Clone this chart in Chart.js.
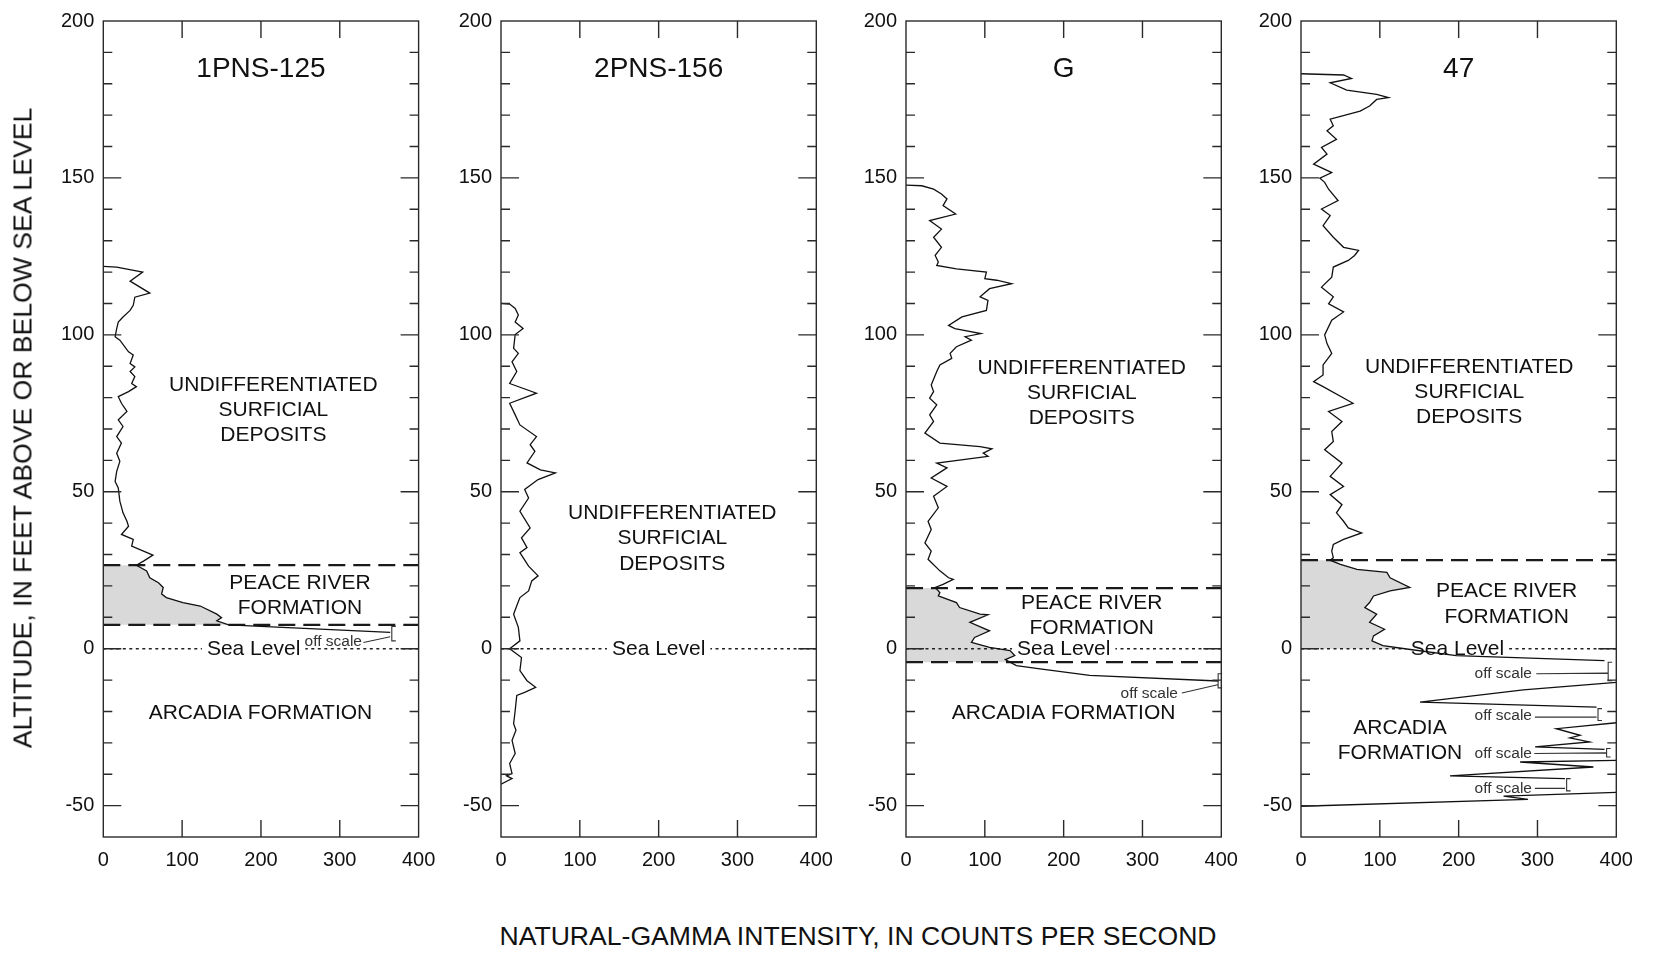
<!DOCTYPE html>
<html>
<head>
<meta charset="utf-8">
<title>Natural-gamma logs</title>
<script src="https://cdn.jsdelivr.net/npm/chart.js@4.4.0/dist/chart.umd.min.js"></script>
<style>
  html, body { margin: 0; padding: 0; background: #fff; width: 1655px; height: 954px; overflow: hidden;
               font-family: "Liberation Sans", Arial, sans-serif; }
  .panel { position: absolute; top: 0; }
  .axis-title { position: absolute; color: #111; font-size: 26.6px; white-space: nowrap; }
  #ytitle { left: 23px; top: 428px; transform: translate(-50%, -50%) rotate(-90deg); }
  #xtitle { left: 858px; top: 936px; transform: translate(-50%, -50%); }
</style>
</head>
<body>
<div class="panel" id="p0"><canvas id="c0"></canvas></div>
<div class="panel" id="p1"><canvas id="c1"></canvas></div>
<div class="panel" id="p2"><canvas id="c2"></canvas></div>
<div class="panel" id="p3"><canvas id="c3"></canvas></div>
<div class="axis-title" id="ytitle">ALTITUDE, IN FEET ABOVE OR BELOW SEA LEVEL</div>
<div class="axis-title" id="xtitle">NATURAL-GAMMA INTENSITY, IN COUNTS PER SECOND</div>
<script>
// ---- tick values ----
const xTicks = [0, 100, 200, 300, 400];
const yTicks = [-50, 0, 50, 100, 150, 200];
const wellNames = ['1PNS-125', '2PNS-156', 'G', '47'];

// ---- natural-gamma logs (counts per second vs altitude, ft) ----
const well1Gamma = [0, 17, 50, 34, 59, 40, 38, 34, 25, 19, 17, 15, 21, 32, 38, 34, 40, 34, 40, 36, 42, 32, 19, 23, 30, 19, 25, 17, 23, 17, 21, 17, 15, 19, 21, 25, 30, 32, 23, 38, 36, 51, 63, 51, 42, 55, 59, 70, 76, 74, 80, 101, 123, 144, 150, 144, 159, 364];
const well1Alt   = [121.8, 121.6, 120, 117.1, 113.3, 112, 109.4, 107.8, 105.7, 104.1, 102, 99.4, 98.3, 94.6, 93.6, 90.9, 89.8, 88.3, 86.7, 84.5, 83.5, 81.9, 80.3, 78.2, 75.6, 72.9, 70.8, 67.6, 65.5, 62.3, 59.7, 56.5, 53.3, 51.2, 47, 43.3, 40.6, 39, 36.4, 34.8, 32.7, 31.1, 29.8, 27.9, 26.6, 24.8, 22.6, 21, 19.5, 17.4, 16.3, 14.7, 13.6, 11, 9.9, 8.9, 7.6, 5.2];

const well2Gamma = [0, 11, 18, 22, 18, 28, 18, 16, 22, 14, 20, 11, 45, 11, 18, 24, 45, 37, 43, 33, 50, 69, 47, 30, 35, 24, 37, 26, 33, 24, 35, 47, 39, 35, 24, 20, 16, 22, 24, 11, 26, 24, 33, 44, 30, 20, 18, 16, 19, 14, 18, 11, 14, 7, 14, 0];
const well2Alt   = [110, 109.8, 108.4, 106.3, 104.1, 102, 100.1, 95.7, 94.1, 91.4, 88.3, 84.5, 81.4, 78.2, 74.5, 71.3, 67.6, 65, 62.9, 59.2, 57, 56, 53.9, 50.7, 48, 43.8, 38.5, 35.3, 32.2, 30.6, 26.3, 23.2, 21.6, 18.4, 16.3, 13.7, 11, 6.8, 2.5, 0, -2.8, -7, -10.2, -12.3, -13.9, -14.9, -19.7, -23.9, -26, -29.2, -33.4, -36.6, -39.8, -40.5, -41.4, -43.2];

const wellGGamma = [0, 20, 35, 45, 52, 47, 63, 30, 45, 35, 45, 37, 41, 39, 64, 102, 100, 115, 134, 106, 94, 104, 102, 71, 54, 62, 95, 75, 83, 64, 56, 58, 43, 39, 32, 35, 30, 39, 30, 35, 24, 43, 94, 109, 98, 104, 39, 52, 45, 32, 52, 35, 41, 28, 32, 24, 32, 28, 43, 54, 60, 47, 37, 43, 41, 64, 68, 94, 104, 81, 106, 87, 83, 106, 132, 138, 126, 140, 170, 233, 396];
const wellGAlt   = [147.7, 147.5, 146.4, 144.9, 143.3, 141.2, 138.5, 136.4, 133.7, 131.1, 127.9, 125.3, 123.2, 122.1, 121, 120, 117.9, 117.4, 116.3, 114.7, 112.1, 111, 107.8, 105.7, 103, 102, 100.4, 99.4, 98.3, 96.2, 94.1, 92.5, 90.4, 88.3, 84, 81.9, 79.8, 77.7, 74.5, 72.4, 68.7, 65.5, 64.4, 63.7, 62.3, 61.3, 59.1, 57.6, 56.5, 54.4, 51.7, 48.6, 44.9, 40.6, 38, 33.7, 31.1, 28.5, 24.8, 22.6, 22.1, 20.5, 19.5, 17.9, 16.8, 14.7, 13.1, 11, 10.8, 8.4, 5.7, 3.6, 2, 0.4, -0.6, -2.2, -3.5, -5.4, -6.4, -8.5, -10.3];

// null entries mark where the trace runs off scale and breaks
const well47Gamma = [0, 54, 64, 37, 58, 96, 111, 96, 87, 75, 37, 41, 33, 45, 26, 33, 16, 39, 24, 30, 35, 47, 26, 37, 28, 41, 54, 73, 68, 60, 41, 39, 26, 41, 35, 54, 39, 30, 33, 39, 28, 28, 16, 28, 66, 35, 52, 39, 41, 30, 52, 37, 54, 37, 52, 45, 54, 60, 77, 54, 41, 39, 41, 37, 50, 71, 109, 113, 138, 113, 92, 87, 81, 96, 87, 106, 92, 90, 104, 134, 197, 385,
  null, 400, 282, 151, 375,
  null, 400, 324, 354, 341, 366, 297, 385,
  null, 400, 278, 371, 189, 335,
  null, 400, 257, 288, 0];
const well47Alt   = [183.2, 182.8, 181.7, 180.3, 178, 176.6, 175.6, 175, 172.9, 171.3, 168.7, 166.6, 165, 162.3, 159.7, 157.6, 154.4, 151.7, 149.9, 148.6, 146.4, 142.8, 140.1, 138, 134.8, 131.1, 127.9, 126.9, 125.3, 123.7, 121.6, 118.4, 115.2, 112.1, 109.9, 107.3, 104.7, 100, 97.2, 94.1, 90.4, 87.2, 85.1, 83.5, 78.2, 75.6, 72.4, 69.2, 66, 63.4, 59.1, 54.9, 51.7, 49.1, 45.9, 43.3, 40.6, 38.5, 36.9, 34.8, 33.2, 31.1, 29, 28.2, 26.9, 25.3, 24.3, 22.6, 19.5, 18.4, 16.8, 14.7, 13.1, 11, 8.4, 6.2, 4.1, 2.5, 1, -0.1, -2.2, -3.8,
  null, -10.7, -13.1, -17, -18.6,
  null, -23.6, -25.5, -27.6, -28.4, -29.7, -31.3, -32.1,
  null, -35.6, -36.1, -37.7, -40.5, -41.4,
  null, -45.8, -47, -48, -50.2];

const gammaSeries = [well1Gamma, well2Gamma, wellGGamma, well47Gamma];
const altSeries   = [well1Alt, well2Alt, wellGAlt, well47Alt];

// formation contacts (ft); null where not picked
const peaceTop  = [26.6, null, 19.3, 28.2];
const peaceBase = [7.6, null, -4.3, null];

// ---- page layout ----
const plotLeft   = [103.3, 501, 906, 1301];
const canvasLeft = [23, 421, 826, 1221];
const plotWidth = 315.3, plotTop = 18.3, plotBottom = 837, canvasH = 890, rightPad = 30;

// ---- annotations, in data units ----
const notes = [
  { title: { x: 200, y: 184.7 },
    blocks: [
      { lines: ['UNDIFFERENTIATED', 'SURFICIAL', 'DEPOSITS'], x: 215.7, y: 76 },
      { lines: ['PEACE RIVER', 'FORMATION'], x: 249.5, y: 16.9 },
      { lines: ['ARCADIA FORMATION'], x: 199.4, y: -20.5 } ],
    sea: 190.7,
    off: [ { x: 291.7, y: 2.3, lead: [330, 2.0, 364, 3.8], br: [366, 7.1, 2.5] } ] },
  { title: { x: 200, y: 184.7 },
    blocks: [ { lines: ['UNDIFFERENTIATED', 'SURFICIAL', 'DEPOSITS'], x: 217.3, y: 35.1 } ],
    sea: 200, off: [] },
  { title: { x: 200, y: 184.7 },
    blocks: [
      { lines: ['UNDIFFERENTIATED', 'SURFICIAL', 'DEPOSITS'], x: 223, y: 81.4 },
      { lines: ['PEACE RIVER', 'FORMATION'], x: 235.6, y: 10.6 },
      { lines: ['ARCADIA FORMATION'], x: 200, y: -20.5 } ],
    sea: 200.1,
    off: [ { x: 308.6, y: -14.2, lead: [350, -14.1, 395.4, -11.5], br: [396, -8.0, -12.5] } ] },
  { title: { x: 200, y: 184.7 },
    blocks: [
      { lines: ['UNDIFFERENTIATED', 'SURFICIAL', 'DEPOSITS'], x: 213.4, y: 81.7 },
      { lines: ['PEACE RIVER', 'FORMATION'], x: 260.9, y: 14.2 },
      { lines: ['ARCADIA', 'FORMATION'], x: 125.6, y: -29.4 } ],
    sea: 198.5,
    off: [
      { x: 256.6, y: -8.0,  lead: [298.5, -8.0, 389, -7.8],   br: [389.7, -4.3, -10.2] },
      { x: 256.6, y: -21.5, lead: [296.7, -21.8, 375, -21.8], br: [376.8, -19.1, -22.9] },
      { x: 256.6, y: -33.4, lead: [296, -33.4, 387, -33.2],   br: [387.7, -31.8, -34.5] },
      { x: 256.6, y: -44.5, lead: [296.7, -44.5, 335, -44.5], br: [337, -41.4, -45.3] } ] }
];

const FONT = '"Liberation Sans", Arial, sans-serif';
Chart.defaults.font.family = FONT;

// shading, contacts, sea level and labels under the trace
const wellNotes = {
  id: 'wellNotes',
  beforeDatasetsDraw(chart, args, opts) {
    const { ctx, chartArea: a, scales: { x, y } } = chart;
    const i = opts.index;
    const g = gammaSeries[i], alt = altSeries[i];
    ctx.save();

    // grey band: Peace River Formation between the trace and the left axis
    if (peaceTop[i] !== null) {
      const lo = peaceBase[i] !== null ? peaceBase[i] : 0;
      const yTop = y.getPixelForValue(peaceTop[i]);
      const yBot = y.getPixelForValue(lo);
      ctx.save();
      ctx.beginPath();
      ctx.rect(a.left, yTop, a.right - a.left, yBot - yTop);
      ctx.clip();
      ctx.beginPath();
      let first = null, last = null;
      for (let k = 0; k < g.length; k++) {
        if (g[k] === null) continue;
        const px = x.getPixelForValue(g[k]), py = y.getPixelForValue(alt[k]);
        if (first === null) { first = py; ctx.moveTo(px, py); } else ctx.lineTo(px, py);
        last = py;
      }
      ctx.lineTo(x.getPixelForValue(0), last);
      ctx.lineTo(x.getPixelForValue(0), first);
      ctx.closePath();
      ctx.fillStyle = '#d9d9d9';
      ctx.fill();
      ctx.restore();
    }

    // sea level (dotted), broken around its label
    const y0 = y.getPixelForValue(0);
    ctx.beginPath();
    ctx.setLineDash([3, 3.5]);
    ctx.lineWidth = 1.5;
    ctx.strokeStyle = '#222';
    ctx.moveTo(a.left, y0); ctx.lineTo(a.right, y0);
    ctx.stroke();
    ctx.setLineDash([]);
    ctx.font = '21px ' + FONT;
    ctx.textAlign = 'center';
    ctx.textBaseline = 'middle';
    const sx = x.getPixelForValue(opts.sea);
    const sw = ctx.measureText('Sea Level').width;
    ctx.fillStyle = '#fff';
    ctx.fillRect(sx - sw / 2 - 5, y0 - 3, sw + 10, 6);
    ctx.fillStyle = '#111';
    ctx.fillText('Sea Level', sx, y0 + 1);

    // formation contacts (dashed)
    ctx.setLineDash([17, 8]);
    ctx.lineWidth = 2.2;
    ctx.strokeStyle = '#1a1a1a';
    [peaceTop[i], peaceBase[i]].forEach(v => {
      if (v === null) return;
      const py = y.getPixelForValue(v);
      ctx.beginPath();
      ctx.moveTo(a.left, py); ctx.lineTo(a.right, py);
      ctx.stroke();
    });
    ctx.setLineDash([]);

    // well name
    ctx.fillStyle = '#111';
    ctx.font = '28px ' + FONT;
    ctx.fillText(wellNames[i], x.getPixelForValue(opts.title.x), y.getPixelForValue(opts.title.y));

    // unit labels
    ctx.font = '21px ' + FONT;
    opts.blocks.forEach(b => {
      const cx = x.getPixelForValue(b.x), cy = y.getPixelForValue(b.y);
      const n = b.lines.length;
      b.lines.forEach((t, k) => ctx.fillText(t, cx, cy + (k - (n - 1) / 2) * 25.2));
    });

    // off-scale notes with leaders and brackets
    ctx.font = '15.5px ' + FONT;
    ctx.lineWidth = 1.1;
    ctx.strokeStyle = '#333';
    opts.off.forEach(o => {
      ctx.fillStyle = '#333';
      ctx.fillText('off scale', x.getPixelForValue(o.x), y.getPixelForValue(o.y));
      ctx.beginPath();
      ctx.moveTo(x.getPixelForValue(o.lead[0]), y.getPixelForValue(o.lead[1]));
      ctx.lineTo(x.getPixelForValue(o.lead[2]), y.getPixelForValue(o.lead[3]));
      const bx = x.getPixelForValue(o.br[0]);
      const b1 = y.getPixelForValue(o.br[1]), b2 = y.getPixelForValue(o.br[2]);
      ctx.moveTo(bx + 4, b1); ctx.lineTo(bx, b1); ctx.lineTo(bx, b2); ctx.lineTo(bx + 4, b2);
      ctx.stroke();
    });
    ctx.restore();
  }
};

// plot frame with inward ticks on all four sides
const frameTicks = {
  id: 'frameTicks',
  afterDatasetsDraw(chart) {
    const { ctx, chartArea: a, scales: { x, y } } = chart;
    ctx.save();
    ctx.strokeStyle = '#2a2a2a';
    ctx.lineWidth = 1.4;
    ctx.beginPath();
    for (let v = -50; v < 200; v += 10) {
      const py = y.getPixelForValue(v);
      const len = (v % 50 === 0) ? 18 : 9;
      ctx.moveTo(a.left, py); ctx.lineTo(a.left + len, py);
      ctx.moveTo(a.right, py); ctx.lineTo(a.right - len, py);
    }
    xTicks.forEach(v => {
      if (v === xTicks[0] || v === xTicks[xTicks.length - 1]) return;
      const px = x.getPixelForValue(v);
      ctx.moveTo(px, a.top); ctx.lineTo(px, a.top + 17);
      ctx.moveTo(px, a.bottom); ctx.lineTo(px, a.bottom - 17);
    });
    ctx.stroke();
    ctx.strokeRect(a.left, a.top, a.right - a.left, a.bottom - a.top);
    ctx.restore();
  }
};

for (let i = 0; i < 4; i++) {
  const wrap = document.getElementById('p' + i);
  wrap.style.left = canvasLeft[i] + 'px';
  const canvas = document.getElementById('c' + i);
  const yw = plotLeft[i] - canvasLeft[i];
  canvas.width = Math.round(yw + plotWidth + rightPad);
  canvas.height = canvasH;
  const rp = canvas.width - yw - plotWidth;

  const pts = gammaSeries[i].map((v, k) =>
    v === null ? { x: null, y: null } : { x: v, y: altSeries[i][k] });

  new Chart(canvas, {
    type: 'scatter',
    data: {
      datasets: [{
        label: wellNames[i],
        data: pts,
        showLine: true,
        spanGaps: false,
        borderColor: '#111',
        borderWidth: 1.3,
        pointRadius: 0,
        tension: 0,
        fill: false
      }]
    },
    options: {
      responsive: false,
      animation: false,
      events: [],
      devicePixelRatio: 1,
      layout: { padding: { left: 0, right: rp, top: plotTop, bottom: 0 } },
      plugins: {
        legend: { display: false },
        tooltip: { enabled: false },
        wellNotes: Object.assign({ index: i }, notes[i])
      },
      scales: {
        x: {
          type: 'linear', min: 0, max: 400,
          afterBuildTicks: s => { s.ticks = xTicks.map(v => ({ value: v })); },
          afterFit: s => { s.height = canvasH - plotBottom; },
          grid: { display: false, drawTicks: false },
          border: { display: false },
          ticks: { color: '#111', font: { size: 20 }, padding: 11, maxRotation: 0, autoSkip: false }
        },
        y: {
          type: 'linear', min: -60, max: 200,
          afterBuildTicks: s => { s.ticks = yTicks.map(v => ({ value: v })); },
          afterFit: s => { s.width = yw; },
          grid: { display: false, drawTicks: false },
          border: { display: false },
          ticks: { color: '#111', font: { size: 20 }, padding: 9, autoSkip: false }
        }
      }
    },
    plugins: [wellNotes, frameTicks]
  });
}
</script>
</body>
</html>
